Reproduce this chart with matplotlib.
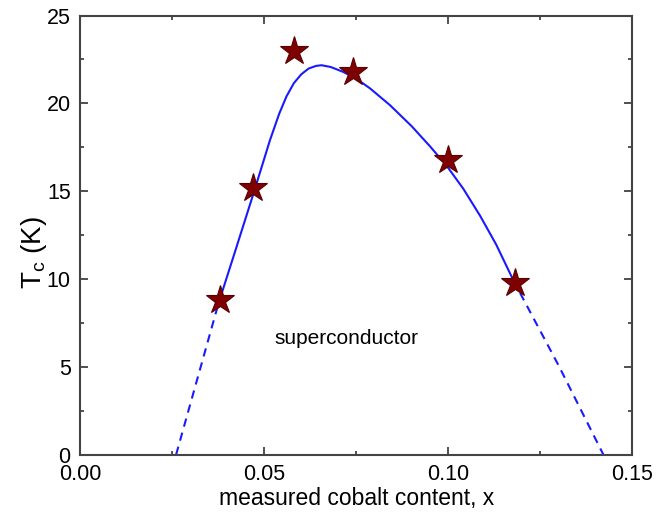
import matplotlib
matplotlib.use("Agg")
import matplotlib.pyplot as plt
from matplotlib.ticker import MultipleLocator

plt.rcParams['font.family'] = ['Liberation Sans', 'DejaVu Sans']
plt.rcParams['mathtext.default'] = 'regular'

# measured points (stars)
x_meas = [0.038, 0.047, 0.058, 0.074, 0.100, 0.118]
tc_meas = [8.8, 15.2, 23.0, 21.8, 16.8, 9.8]

# guide-to-the-eye curve
x_fit = [0.0375, 0.0420, 0.0470, 0.0515, 0.0540, 0.0560, 0.0580, 0.0600,
         0.0620, 0.0640, 0.0655, 0.0680, 0.0714, 0.0750, 0.0787, 0.0841,
         0.0900, 0.0950, 0.0995, 0.1040, 0.1086, 0.1130, 0.1176]
tc_fit = [8.60, 11.55, 14.85, 17.90, 19.40, 20.40, 21.15, 21.65,
          21.98, 22.13, 22.17, 22.07, 21.79, 21.40, 20.85, 19.90,
          18.70, 17.55, 16.45, 15.15, 13.60, 11.95, 9.94]

# dashed extrapolations to Tc = 0
x_low = [0.0260, 0.0375]
tc_low = [0.0, 8.60]
x_high = [0.1176, 0.1300, 0.1421]
tc_high = [9.94, 5.05, 0.0]

fig = plt.figure(figsize=(6.7, 5.17), dpi=100)
ax = fig.add_axes([0.120, 0.1205, 0.824, 0.8495])

blue = "#1a1aff"
ax.plot(x_fit, tc_fit, color=blue, lw=1.5, zorder=2)
ax.plot(x_low, tc_low, color=blue, lw=1.5, ls=(0, (4, 3)), zorder=2)
ax.plot(x_high, tc_high, color=blue, lw=1.5, ls=(0, (4, 3)), zorder=2)
ax.plot(x_meas, tc_meas, ls="none", marker="*", ms=21, color="#7f0000",
        mec="#5a0000", mew=0.8, zorder=3)

ax.text(0.0724, 6.6, "superconductor", fontsize=15, ha="center", va="center")

ax.set_xlim(0, 0.15)
ax.set_ylim(0, 25)
ax.xaxis.set_major_locator(MultipleLocator(0.05))
ax.xaxis.set_minor_locator(MultipleLocator(0.025))
ax.yaxis.set_major_locator(MultipleLocator(5))
ax.yaxis.set_minor_locator(MultipleLocator(2.5))
ax.xaxis.set_major_formatter(plt.FuncFormatter(lambda v, p: f"{v:.2f}"))

ax.tick_params(which="both", direction="in", top=True, right=True,
               color="#333333", width=1.2)
ax.tick_params(which="major", length=6, labelsize=15.5, pad=7)
ax.tick_params(which="minor", length=3)
for s in ax.spines.values():
    s.set_color("#444444")
    s.set_linewidth(1.5)

ax.set_xlabel("measured cobalt content, x", fontsize=16.5)
ax.set_ylabel("T$_c$ (K)", fontsize=20)
ax.xaxis.set_label_coords(0.5, -0.073)
ax.yaxis.set_label_coords(-0.057, 0.46)

fig.savefig("out.png", dpi=100)
